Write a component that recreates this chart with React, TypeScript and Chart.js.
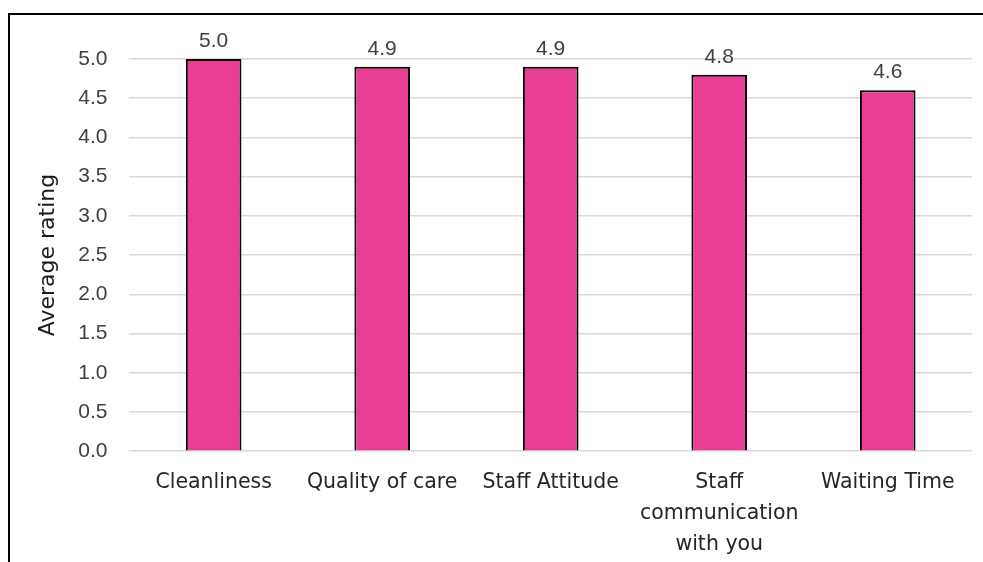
import React, { useEffect, useRef } from "react";
import { Chart, registerables } from "chart.js";

Chart.register(...registerables);

const categories: (string | string[])[] = [
  "Cleanliness",
  "Quality of care",
  "Staff Attitude",
  ["Staff", "communication", "with you"],
  "Waiting Time",
];
const ratings = [5.0, 4.9, 4.9, 4.8, 4.6];
const yMin = 0;
const yMax = 5;
const yStep = 0.5;

const labelFont = "'Liberation Sans', Arial, sans-serif";
const catFont = "'DejaVu Sans', 'Open Sans', sans-serif";

const dataLabels = {
  id: "dataLabels",
  afterDatasetsDraw(chart: any) {
    const ctx = chart.ctx;
    const meta = chart.getDatasetMeta(0);
    ctx.save();
    ctx.font = `21px ${labelFont}`;
    ctx.fillStyle = "#404040";
    ctx.textAlign = "center";
    ctx.textBaseline = "alphabetic";
    meta.data.forEach((bar: any, i: number) => {
      const v = chart.data.datasets[0].data[i] as number;
      ctx.fillText(v.toFixed(1), bar.x, bar.y - 12);
    });
    ctx.restore();
  },
};

export default function App() {
  const ref = useRef<HTMLCanvasElement | null>(null);
  useEffect(() => {
    if (!ref.current) return;
    const chart = new Chart(ref.current, {
      type: "bar",
      data: {
        labels: categories,
        datasets: [
          {
            data: ratings,
            backgroundColor: "#E83F95",
            borderColor: "#000000",
            borderWidth: 2,
            barPercentage: 0.33,
            categoryPercentage: 1,
          },
        ],
      },
      options: {
        animation: false,
        responsive: true,
        maintainAspectRatio: false,
        layout: { padding: { top: 44, right: 11, left: 20, bottom: -14 } },
        plugins: { legend: { display: false }, tooltip: { enabled: false } },
        scales: {
          x: {
            grid: { display: false, drawTicks: false },
            border: { display: false },
            ticks: {
              color: "#262626",
              font: { family: catFont, size: 20.5, lineHeight: 1.51 },
              padding: 16,
              maxRotation: 0,
              autoSkip: false,
            },
          },
          y: {
            min: yMin,
            max: yMax,
            grid: { color: "#d9d9d9", lineWidth: 1.5, drawTicks: false },
            border: { display: false },
            ticks: {
              stepSize: yStep,
              color: "#404040",
              font: { family: labelFont, size: 21 },
              padding: 22,
              callback: (v: any) => Number(v).toFixed(1),
            },
            title: {
              display: true,
              text: "Average rating",
              color: "#1a1a1a",
              font: { family: catFont, size: 22, lineHeight: 1.1 },
              padding: { top: 6, bottom: -4 },
            },
          },
        },
      },
      plugins: [dataLabels],
    });
    return () => chart.destroy();
  }, []);

  return (
    <div
      style={{
        position: "fixed",
        left: 8,
        top: 13,
        width: 975,
        height: 549,
        borderTop: "2px solid #000",
        borderLeft: "2px solid #000",
        boxSizing: "border-box",
        background: "#fff",
      }}
    >
      <div style={{ position: "relative", width: 973, height: 547 }}>
        <canvas ref={ref} />
      </div>
    </div>
  );
}
